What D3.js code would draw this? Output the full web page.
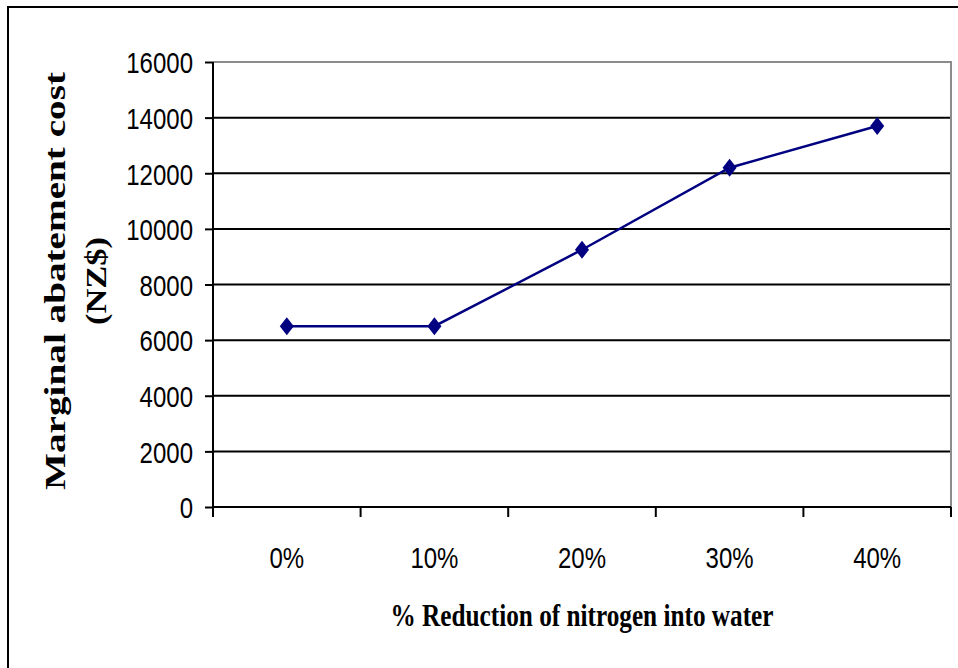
<!DOCTYPE html>
<html>
<head>
<meta charset="utf-8">
<script src="https://cdn.jsdelivr.net/npm/d3@7"></script>
<style>
  html, body { margin: 0; padding: 0; background: #fff; }
  svg { display: block; }
</style>
</head>
<body>
<svg id="chart" width="958" height="668"></svg>
<script>
// Marginal abatement cost by share of nitrogen reduction
const categories = ["0%", "10%", "20%", "30%", "40%"];
const costValues = [6500, 6500, 9250, 12200, 13700];
const yTickValues = [0, 2000, 4000, 6000, 8000, 10000, 12000, 14000, 16000];

const svg = d3.select("#chart");
const W = 958, H = 668;
const plot = { left: 213, right: 951, top: 62, bottom: 507 };

const sansFont = "'Liberation Sans', Arial, sans-serif";
const serifFont = "'Liberation Serif', 'Times New Roman', serif";
const squeeze = 0.8; // narrow glyph widths

// outer chart frame
svg.append("rect")
  .attr("x", 8).attr("y", 7)
  .attr("width", W).attr("height", H)
  .attr("fill", "#fff")
  .attr("stroke", "#000").attr("stroke-width", 2);

const x = d3.scaleBand().domain(categories).range([plot.left, plot.right]).padding(0);
const y = d3.scaleLinear().domain([0, 16000]).range([plot.bottom, plot.top]);

// horizontal gridlines
svg.append("g")
  .selectAll("line")
  .data(yTickValues.filter(v => v > 0 && v < 16000))
  .join("line")
  .attr("x1", plot.left).attr("x2", plot.right)
  .attr("y1", d => y(d)).attr("y2", d => y(d))
  .attr("stroke", "#000").attr("stroke-width", 2);

// plot area border (top and right in grey)
svg.append("path")
  .attr("d", `M${plot.left},${y(16000)}H${plot.right}V${plot.bottom}`)
  .attr("fill", "none")
  .attr("stroke", "#8c8c8c").attr("stroke-width", 2);

// y axis
const yAxis = svg.append("g")
  .attr("transform", `translate(${plot.left},0)`)
  .call(d3.axisLeft(y).tickValues(yTickValues).tickFormat(d3.format("d"))
    .tickSize(8).tickPadding(12).tickSizeOuter(0));
yAxis.select(".domain").attr("stroke", "#000").attr("stroke-width", 2)
  .attr("d", `M0,${y(16000)}V${plot.bottom + 10}`);
yAxis.selectAll(".tick line").attr("stroke", "#000").attr("stroke-width", 2);
yAxis.selectAll(".tick text")
  .attr("font-family", sansFont).attr("font-size", 30).attr("fill", "#000")
  .attr("dy", "0.36em");

// x axis line and category boundary ticks
svg.append("line")
  .attr("x1", plot.left).attr("x2", plot.right)
  .attr("y1", plot.bottom).attr("y2", plot.bottom)
  .attr("stroke", "#000").attr("stroke-width", 2);
const boundaries = categories.map(c => x(c)).concat([x.range()[1]]);
svg.append("g")
  .selectAll("line")
  .data(boundaries)
  .join("line")
  .attr("x1", d => d).attr("x2", d => d)
  .attr("y1", plot.bottom).attr("y2", plot.bottom + 10)
  .attr("stroke", "#000").attr("stroke-width", 2);

// x category labels
svg.append("g")
  .selectAll("text")
  .data(categories)
  .join("text")
  .attr("x", d => x(d) + x.bandwidth() / 2)
  .attr("y", 568)
  .attr("text-anchor", "middle")
  .attr("font-family", sansFont).attr("font-size", 30).attr("fill", "#000")
  .text(d => d);

// narrow the tick labels
svg.selectAll(".tick text, g text").each(function () {
  const len = this.getComputedTextLength();
  d3.select(this).attr("textLength", len * squeeze).attr("lengthAdjust", "spacingAndGlyphs");
});

// series line
const pts = categories.map((c, i) => [x(c) + x.bandwidth() / 2, y(costValues[i])]);
svg.append("path")
  .attr("d", d3.line()(pts))
  .attr("fill", "none")
  .attr("stroke", "#000080").attr("stroke-width", 2.5);

// diamond markers
const diamond = {
  draw(ctx, size) {
    const h = Math.sqrt(size) / 2, w = h * 0.78;
    ctx.moveTo(0, -h); ctx.lineTo(w, 0); ctx.lineTo(0, h); ctx.lineTo(-w, 0); ctx.closePath();
  }
};
svg.append("g")
  .selectAll("path")
  .data(pts)
  .join("path")
  .attr("transform", d => `translate(${d[0]},${d[1]})`)
  .attr("d", d3.symbol().type(diamond).size(18 * 18))
  .attr("fill", "#000080");

// axis titles
svg.append("text")
  .attr("x", (plot.left + plot.right) / 2)
  .attr("y", 626)
  .attr("text-anchor", "middle")
  .attr("font-family", serifFont).attr("font-weight", "bold").attr("font-size", 31)
  .attr("textLength", 383).attr("lengthAdjust", "spacingAndGlyphs")
  .attr("fill", "#000")
  .text("%  Reduction of nitrogen into water");

const yTitle = [
  { text: "Marginal abatement cost", x: 65, len: 418 },
  { text: "(NZ$)", x: 106, len: 88 }
];
svg.append("g")
  .selectAll("text")
  .data(yTitle)
  .join("text")
  .attr("transform", d => `translate(${d.x},281) scale(0.8,1) rotate(-90)`)
  .attr("text-anchor", "middle")
  .attr("font-family", serifFont).attr("font-weight", "bold").attr("font-size", 38)
  .attr("textLength", d => d.len).attr("lengthAdjust", "spacingAndGlyphs")
  .attr("fill", "#000")
  .text(d => d.text);
</script>
</body>
</html>
